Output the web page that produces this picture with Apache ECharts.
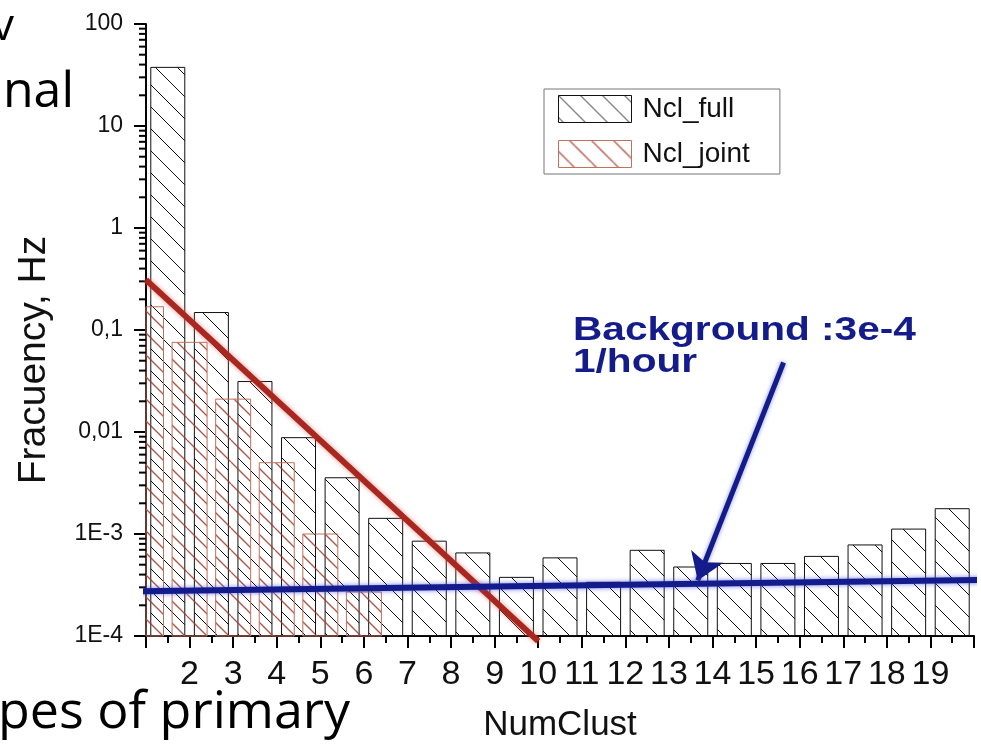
<!DOCTYPE html>
<html>
<head>
<meta charset="utf-8">
<script src="https://cdn.jsdelivr.net/npm/echarts@6/dist/echarts.min.js"></script>
<style>
html, body { margin: 0; padding: 0; background: #fff; }
#main { width: 981px; height: 754px; }
</style>
</head>
<body>
<div id="main"></div>
<script>
// NumClust bins (black bars sit between tick n and n+1, red bars centred on tick n)
var numClust = [1, 2, 3, 4, 5, 6, 7, 8, 9, 10, 11, 12, 13, 14, 15, 16, 17, 18, 19];
var nclFull = [38, 0.15, 0.0316, 0.0089, 0.0036, 0.00144, 8.6e-4, 6.6e-4, 3.8e-4, 5.9e-4,
               3.4e-4, 7.0e-4, 4.8e-4, 5.2e-4, 5.2e-4, 6.1e-4, 7.9e-4, 1.13e-3, 1.79e-3];
var jointClust = [1, 2, 3, 4, 5, 6];
var nclJoint = [0.169, 0.0757, 0.021, 0.005, 1.0e-3, 2.7e-4];

// fitted slope (red) and background level (blue)
var fitX = [1, 10];
var fitY = [0.31, 8.9e-5];
var bgX = [0.85, 20.2];
var bgY = [2.75e-4, 3.55e-4];
var arrowFrom = [15.63, 0.048];
var arrowTo = [13.66, 3.5e-4];

var xTickLabels = [2, 3, 4, 5, 6, 7, 8, 9, 10, 11, 12, 13, 14, 15, 16, 17, 18, 19];
var yTickLabels = ['1E-4', '1E-3', '0,01', '0,1', '1', '10', '100']; // 1e-4 .. 1e2
var yMin = 1e-4;

var navy = '#141c8c';

function hatch(color, offset, lw) {
  var s = 22;
  var c = document.createElement('canvas');
  c.width = s; c.height = s;
  var g = c.getContext('2d');
  g.strokeStyle = color;
  g.lineWidth = lw;
  g.beginPath();
  for (var k = -s; k <= s; k += s) {
    g.moveTo(k + offset, 0);
    g.lineTo(k + offset + s, s);
  }
  g.stroke();
  return { image: c, repeat: 'repeat' };
}
var blackHatch = hatch('#111', 0, 1);
var redHatch = hatch('rgba(160,55,40,0.85)', 11, 1.3);

var fullData = numClust.map(function (n, i) { return [n + 0.5, nclFull[i]]; });
var jointData = jointClust.map(function (n, i) { return [n, nclJoint[i]]; });

// log minor ticks 2..9 in every decade
var minorTicks = [];
for (var e = -4; e < 2; e++) {
  for (var k = 2; k <= 9; k++) minorTicks.push([1, k * Math.pow(10, e)]);
}

var fullStyle = { color: blackHatch, borderColor: '#111', borderWidth: 1 };
var jointStyle = { color: redHatch, borderColor: '#c0705e', borderWidth: 1 };

var myChart = echarts.init(document.getElementById('main'));
var option = {
  animation: false,
  backgroundColor: '#fff',
  textStyle: { fontFamily: 'Liberation Sans' },
  grid: { left: 146, right: 7, top: 24, bottom: 118, outerBoundsMode: 'none' },
  legend: {
    orient: 'vertical',
    left: 544, top: 89,
    padding: [6, 30, 6, 14],
    itemGap: 17,
    itemWidth: 73, itemHeight: 27,
    borderColor: '#777', borderWidth: 1,
    textStyle: { fontSize: 28, color: '#111', padding: [0, 0, 0, 6] },
    data: [
      { name: 'Ncl_full', icon: 'rect', itemStyle: fullStyle },
      { name: 'Ncl_joint', icon: 'rect', itemStyle: jointStyle }
    ]
  },
  xAxis: {
    type: 'value', min: 1, max: 20, interval: 1,
    name: 'NumClust', nameLocation: 'middle', nameGap: 72,
    nameTextStyle: { fontSize: 35, color: '#111' },
    axisLine: { lineStyle: { color: '#000', width: 2 } },
    axisTick: { length: 12, lineStyle: { color: '#000', width: 2 } },
    minorTick: { show: true, splitNumber: 2, length: 7, lineStyle: { color: '#000', width: 2 } },
    splitLine: { show: false },
    axisLabel: {
      fontSize: 34, color: '#111', margin: 22,
      formatter: function (v) { return xTickLabels.indexOf(v) >= 0 ? String(v) : ''; }
    }
  },
  yAxis: {
    type: 'log', logBase: 10, min: yMin, max: 100, startValue: yMin,
    axisLine: { show: true, lineStyle: { color: '#000', width: 2 } },
    axisTick: { show: true, length: 12, lineStyle: { color: '#000', width: 2 } },
    splitLine: { show: false },
    axisLabel: {
      fontSize: 23, color: '#111', margin: 23,
      formatter: function (v) { return yTickLabels[Math.round(Math.log10(v)) + 4] || ''; }
    }
  },
  graphic: [
    { type: 'text', x: -8, y: 44 - 17, style: { text: 'v', fontSize: 44, fontFamily: 'Open Sans', fill: '#000', verticalAlign: 'middle' } },
    { type: 'text', x: 74, y: 112 - 19.5, style: { text: 'nal', fontSize: 50, fontFamily: 'Open Sans', fill: '#000', align: 'right', verticalAlign: 'middle' } },
    { type: 'text', x: -2, y: 733 - 20, style: { text: 'pes of primary', fontSize: 52, fontFamily: 'Open Sans', fill: '#000', verticalAlign: 'middle' } },
    { type: 'text', x: 34, y: 360, rotation: Math.PI / 2,
      style: { text: 'Fracuency, Hz', fontSize: 39, fontFamily: 'Liberation Sans', fill: '#111', align: 'center', verticalAlign: 'middle' } },
    { type: 'text', x: 573, y: 315, scaleX: 1.23, z: 100,
      style: { text: 'Background :3e-4\n1/hour', fontSize: 33, fontWeight: 'bold', fontFamily: 'Liberation Sans',
               lineHeight: 32, fill: navy, verticalAlign: 'top' } }
  ],
  series: [
    {
      name: 'Ncl_full', type: 'bar', barWidth: 35,
      data: fullData, itemStyle: fullStyle, z: 2
    },
    {
      // drawn as custom rects so the first bin is cut at the y axis
      name: 'Ncl_joint', type: 'custom', z: 3, silent: true,
      data: jointData,
      renderItem: function (params, api) {
        var top = api.coord([api.value(0), api.value(1)]);
        var base = api.coord([api.value(0), yMin]);
        var cs = params.coordSys;
        var rect = echarts.graphic.clipRectByRect(
          { x: top[0] - 17.5, y: top[1], width: 35, height: base[1] - top[1] },
          { x: cs.x, y: cs.y, width: cs.width, height: cs.height });
        return rect && {
          type: 'rect', shape: rect,
          style: { fill: redHatch, stroke: jointStyle.borderColor, lineWidth: 1 }
        };
      }
    },
    {
      name: 'minor', type: 'custom', silent: true, z: 4,
      data: minorTicks,
      renderItem: function (params, api) {
        var p = api.coord([api.value(0), api.value(1)]);
        return { type: 'line', shape: { x1: p[0] - 7, y1: p[1], x2: p[0], y2: p[1] },
                 style: { stroke: '#000', lineWidth: 2 } };
      }
    },
    {
      name: 'fit', type: 'line', symbol: 'none', clip: false, silent: true, z: 5,
      data: fitX.map(function (x, i) { return [x, fitY[i]]; }),
      lineStyle: { color: '#a8281f', width: 6, shadowColor: 'rgba(230,100,100,0.7)', shadowBlur: 5 }
    },
    {
      name: 'background', type: 'line', symbol: 'none', clip: false, silent: true, z: 6,
      data: bgX.map(function (x, i) { return [x, bgY[i]]; }),
      lineStyle: { color: navy, width: 6, shadowColor: 'rgba(60,70,230,0.7)', shadowBlur: 5 },
      markLine: {
        silent: true, symbol: ['none', 'arrow'], symbolSize: 26,
        label: { show: false },
        lineStyle: { color: navy, width: 5, type: 'solid', shadowColor: 'rgba(60,70,230,0.6)', shadowBlur: 4 },
        data: [[{ coord: arrowFrom }, { coord: arrowTo }]]
      }
    }
  ]
};

myChart.setOption(option);
</script>
</body>
</html>
